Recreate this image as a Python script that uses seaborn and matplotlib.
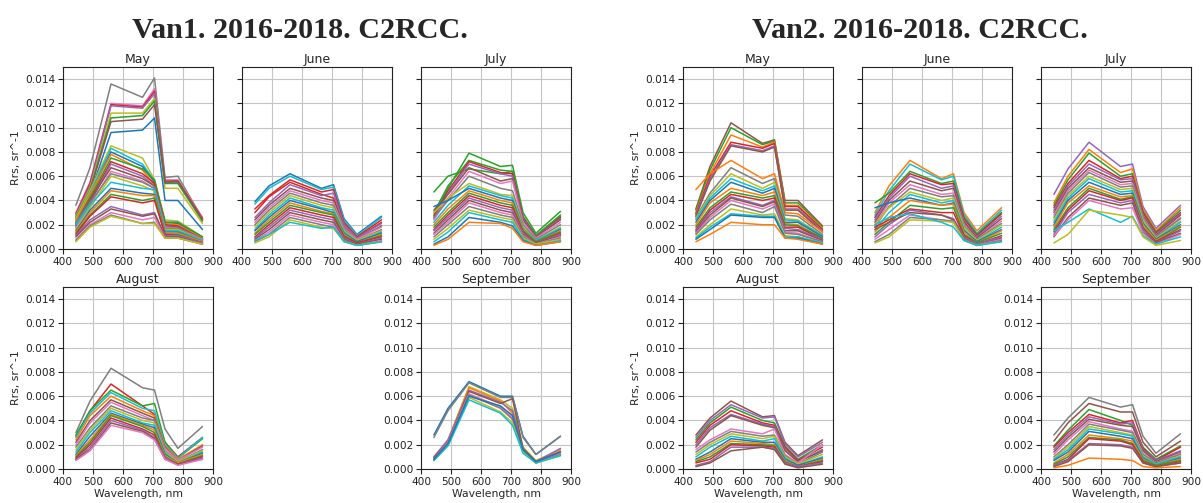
import pandas as pd
import seaborn as sns
import matplotlib
matplotlib.use("Agg")
import matplotlib.pyplot as plt

# Sentinel-2 MSI band centres used by C2RCC
wavelengths = [443, 490, 560, 665, 705, 740, 783, 865]
months_top = ["May", "June", "July"]
months_bottom = ["August", "September"]
sites = ["Van1", "Van2"]

# Rrs spectra, in units of 1e-4 sr^-1
van1_may = [
    [36, 67, 136, 125, 141, 59, 60, 25], [30, 55, 120, 118, 132, 57, 57, 26],
    [29, 54, 119, 117, 130, 56, 56, 25], [28, 52, 118, 116, 128, 55, 55, 24],
    [27, 50, 112, 112, 124, 50, 50, 21], [26, 49, 108, 110, 122, 54, 54, 23],
    [25, 48, 105, 107, 119, 55, 56, 24], [20, 45, 96, 98, 108, 40, 40, 16],
    [25, 48, 85, 75, 57, 24, 23, 10], [23, 46, 83, 70, 56, 22, 22, 9],
    [22, 44, 80, 68, 55, 22, 21, 9], [24, 45, 78, 65, 53, 21, 20, 9],
    [20, 42, 75, 66, 57, 22, 22, 10], [19, 40, 72, 62, 54, 20, 19, 8],
    [18, 38, 70, 60, 52, 19, 18, 8], [21, 40, 67, 58, 52, 19, 18, 8],
    [17, 36, 64, 56, 50, 18, 17, 8], [22, 38, 62, 55, 50, 17, 17, 7],
    [16, 34, 60, 52, 48, 16, 16, 7], [20, 36, 55, 50, 49, 15, 15, 7],
    [15, 32, 50, 46, 45, 14, 14, 6], [14, 30, 48, 44, 44, 13, 13, 6],
    [13, 28, 45, 40, 42, 12, 12, 5], [12, 27, 43, 38, 40, 12, 11, 5],
    [11, 24, 35, 28, 30, 11, 11, 5], [10, 22, 33, 27, 29, 10, 10, 4],
    [8, 20, 30, 24, 26, 9, 9, 4], [7, 19, 28, 21, 22, 9, 9, 4],
    [6, 18, 27, 21, 21, 9, 9, 4],
]
van1_june = [
    [39, 52, 62, 50, 53, 25, 12, 27], [37, 50, 60, 49, 51, 24, 11, 26],
    [33, 44, 57, 47, 49, 22, 10, 24], [30, 43, 55, 45, 42, 20, 9, 22],
    [26, 38, 53, 44, 46, 20, 9, 21], [24, 36, 50, 42, 40, 18, 8, 19],
    [22, 34, 48, 40, 38, 17, 8, 18], [20, 32, 46, 38, 36, 16, 7, 16],
    [18, 30, 44, 36, 34, 15, 7, 15], [16, 28, 42, 34, 32, 14, 6, 14],
    [15, 26, 40, 33, 30, 13, 6, 13], [13, 24, 38, 31, 29, 12, 5, 12],
    [12, 22, 36, 30, 28, 11, 5, 11], [10, 20, 34, 28, 26, 10, 5, 10],
    [9, 18, 32, 26, 24, 9, 4, 9], [8, 16, 30, 24, 22, 8, 4, 8],
    [7, 14, 28, 22, 20, 7, 3, 7], [6, 12, 26, 20, 18, 7, 3, 6],
    [5, 10, 24, 18, 17, 6, 3, 6], [7, 12, 22, 17, 18, 6, 3, 6],
]
van1_july = [
    [28, 50, 79, 68, 69, 30, 13, 31], [47, 60, 66, 62, 64, 26, 11, 28],
    [30, 52, 73, 65, 64, 27, 11, 27], [27, 48, 72, 63, 62, 26, 10, 26],
    [25, 46, 70, 62, 60, 25, 10, 25], [32, 45, 67, 56, 58, 24, 10, 24],
    [24, 42, 64, 54, 56, 22, 9, 22], [26, 40, 60, 50, 48, 20, 8, 20],
    [30, 42, 54, 45, 44, 18, 7, 18], [22, 36, 52, 44, 42, 17, 7, 17],
    [35, 40, 50, 42, 40, 16, 6, 16], [20, 33, 48, 40, 38, 16, 6, 15],
    [18, 30, 46, 38, 36, 15, 6, 14], [16, 28, 44, 36, 34, 14, 5, 13],
    [15, 26, 42, 34, 32, 13, 5, 12], [13, 24, 40, 32, 30, 12, 5, 11],
    [12, 22, 38, 30, 28, 11, 4, 10], [10, 20, 35, 28, 26, 10, 4, 9],
    [8, 17, 32, 26, 24, 9, 4, 8], [6, 14, 30, 24, 22, 8, 3, 7],
    [4, 10, 26, 22, 19, 7, 3, 6], [3, 8, 22, 21, 17, 6, 3, 6],
]
van1_august = [
    [30, 56, 83, 67, 65, 33, 17, 35], [27, 48, 70, 52, 45, 22, 10, 26],
    [28, 48, 65, 52, 54, 22, 9, 25], [26, 46, 63, 50, 48, 20, 9, 26],
    [24, 44, 60, 48, 44, 19, 8, 20], [22, 40, 57, 46, 42, 18, 7, 19],
    [20, 38, 55, 44, 40, 17, 7, 18], [18, 34, 52, 42, 40, 15, 6, 16],
    [16, 32, 50, 40, 38, 14, 6, 15], [14, 30, 48, 38, 36, 13, 5, 14],
    [12, 27, 46, 37, 34, 12, 5, 13], [11, 24, 45, 36, 32, 11, 5, 12],
    [10, 22, 44, 35, 30, 10, 4, 11], [9, 20, 42, 33, 28, 9, 4, 10],
    [8, 18, 40, 32, 26, 9, 4, 9], [8, 16, 38, 31, 25, 8, 4, 8],
    [7, 15, 36, 30, 24, 8, 3, 8],
]
van1_september = [
    [28, 50, 72, 60, 60, 27, 12, 27], [26, 48, 71, 59, 59, 26, 12, 27],
    [10, 24, 68, 57, 50, 18, 7, 16], [9, 23, 67, 56, 46, 17, 6, 15],
    [10, 24, 65, 55, 48, 17, 6, 17], [9, 22, 64, 54, 58, 17, 6, 14],
    [8, 22, 62, 51, 42, 16, 5, 13], [8, 21, 61, 50, 41, 15, 5, 12],
    [7, 20, 59, 47, 38, 14, 5, 11], [7, 19, 57, 46, 36, 13, 5, 11],
    [8, 21, 60, 52, 44, 16, 6, 14],
]
van2_may = [
    [33, 68, 104, 87, 90, 40, 40, 19], [32, 65, 100, 86, 89, 38, 38, 18],
    [30, 62, 94, 84, 88, 36, 36, 17], [29, 60, 88, 83, 87, 35, 35, 16],
    [28, 58, 86, 81, 85, 33, 33, 15], [27, 56, 85, 80, 84, 32, 32, 14],
    [49, 62, 73, 58, 62, 30, 29, 14], [26, 46, 67, 54, 58, 28, 27, 12],
    [25, 44, 62, 50, 55, 25, 24, 11], [24, 42, 58, 48, 52, 24, 23, 11],
    [22, 40, 55, 46, 50, 22, 22, 10], [20, 38, 50, 44, 47, 21, 20, 9],
    [18, 34, 47, 42, 44, 20, 19, 9], [16, 32, 45, 40, 42, 18, 18, 8],
    [15, 30, 43, 36, 40, 17, 16, 8], [14, 28, 42, 35, 39, 15, 15, 7],
    [13, 26, 40, 33, 37, 14, 13, 6], [12, 24, 37, 30, 35, 13, 12, 6],
    [10, 20, 33, 28, 29, 11, 10, 5], [9, 18, 29, 27, 27, 10, 10, 5],
    [8, 16, 28, 26, 26, 9, 9, 4], [6, 12, 22, 20, 20, 9, 8, 4],
]
van2_june = [
    [30, 52, 73, 58, 62, 30, 15, 34], [28, 48, 70, 57, 60, 28, 13, 32],
    [38, 46, 64, 54, 56, 26, 12, 30], [26, 44, 62, 53, 54, 25, 11, 29],
    [24, 42, 60, 50, 52, 23, 10, 27], [22, 40, 56, 48, 50, 22, 9, 25],
    [20, 38, 53, 45, 46, 20, 8, 23], [18, 35, 50, 43, 44, 19, 8, 21],
    [20, 34, 47, 40, 42, 18, 7, 20], [16, 30, 45, 38, 40, 16, 6, 18],
    [34, 38, 42, 36, 38, 15, 6, 16], [14, 26, 40, 36, 37, 14, 5, 15],
    [12, 22, 36, 33, 34, 12, 5, 13], [18, 24, 33, 30, 30, 11, 4, 11],
    [10, 20, 32, 28, 25, 10, 4, 10], [16, 22, 30, 28, 24, 9, 3, 9],
    [8, 16, 28, 24, 22, 8, 3, 8], [6, 12, 26, 24, 23, 8, 3, 7],
    [5, 10, 24, 23, 22, 7, 3, 6], [20, 26, 29, 22, 18, 7, 3, 6],
]
van2_july = [
    [45, 66, 88, 68, 70, 35, 17, 36], [38, 60, 82, 63, 66, 33, 15, 34],
    [36, 57, 79, 60, 62, 31, 14, 32], [34, 54, 73, 58, 60, 30, 13, 30],
    [32, 52, 70, 57, 58, 28, 12, 29], [30, 50, 67, 55, 56, 27, 11, 28],
    [28, 48, 65, 53, 54, 26, 10, 26], [26, 46, 63, 51, 52, 25, 10, 25],
    [24, 44, 60, 49, 50, 24, 9, 23], [22, 42, 58, 47, 48, 22, 8, 22],
    [20, 40, 55, 45, 46, 21, 8, 20], [18, 38, 52, 43, 44, 20, 7, 19],
    [16, 34, 50, 41, 43, 18, 6, 18], [14, 32, 48, 40, 42, 17, 6, 16],
    [12, 30, 45, 38, 40, 16, 5, 15], [10, 26, 42, 36, 38, 14, 5, 13],
    [11, 24, 40, 33, 34, 13, 4, 12], [15, 22, 33, 22, 27, 11, 4, 10],
    [5, 12, 32, 28, 26, 10, 3, 7],
]
van2_august = [
    [28, 42, 56, 43, 44, 22, 11, 24], [26, 40, 53, 42, 43, 21, 10, 22],
    [24, 38, 51, 40, 38, 19, 8, 20], [22, 36, 48, 38, 36, 18, 7, 18],
    [20, 34, 45, 37, 35, 16, 6, 16], [18, 32, 44, 36, 34, 15, 6, 15],
    [16, 24, 33, 29, 33, 12, 5, 20], [14, 22, 31, 27, 28, 11, 4, 14],
    [12, 20, 29, 25, 27, 10, 4, 12], [10, 18, 27, 23, 25, 9, 3, 10],
    [8, 14, 25, 22, 22, 8, 3, 9], [7, 12, 23, 21, 20, 7, 2, 8],
    [6, 10, 21, 20, 19, 6, 2, 7], [5, 8, 20, 19, 18, 5, 2, 6],
    [3, 6, 18, 18, 17, 5, 2, 5], [2, 5, 15, 18, 16, 4, 1, 4],
]
van2_september = [
    [28, 42, 59, 51, 53, 27, 13, 29], [23, 38, 54, 47, 47, 22, 10, 23],
    [19, 32, 49, 40, 36, 18, 8, 19], [18, 30, 45, 38, 40, 17, 7, 18],
    [16, 28, 43, 37, 38, 16, 7, 15], [14, 26, 41, 36, 35, 15, 6, 14],
    [12, 24, 39, 33, 31, 13, 5, 13], [10, 20, 37, 32, 30, 12, 5, 12],
    [9, 18, 35, 30, 28, 11, 4, 11], [8, 16, 33, 29, 27, 10, 4, 10],
    [7, 14, 31, 27, 25, 9, 3, 9], [5, 12, 28, 25, 23, 8, 3, 8],
    [4, 10, 26, 24, 21, 7, 3, 7], [3, 8, 25, 23, 20, 6, 2, 6],
    [3, 7, 21, 20, 18, 5, 2, 5], [2, 6, 20, 19, 17, 5, 2, 5],
    [1, 3, 9, 8, 7, 2, 1, 2],
]

spectra = {
    ("Van1", "May"): van1_may, ("Van1", "June"): van1_june,
    ("Van1", "July"): van1_july, ("Van1", "August"): van1_august,
    ("Van1", "September"): van1_september,
    ("Van2", "May"): van2_may, ("Van2", "June"): van2_june,
    ("Van2", "July"): van2_july, ("Van2", "August"): van2_august,
    ("Van2", "September"): van2_september,
}

# colours of the lines that stand out (tab10 index), the rest just cycle
highlight = {
    ("Van1", "May"): {0: 7, 1: 6, 2: 3, 3: 4, 4: 8, 5: 2, 6: 5, 7: 0},
    ("Van1", "June"): {0: 0, 1: 9, 2: 3},
    ("Van1", "July"): {0: 2, 1: 2},
    ("Van1", "August"): {0: 7, 1: 3, 2: 2, 3: 9, 4: 1},
    ("Van1", "September"): {0: 0, 1: 7, 2: 8, 3: 1},
    ("Van2", "May"): {0: 5, 1: 2, 2: 1, 6: 1},
    ("Van2", "June"): {0: 1, 1: 9},
    ("Van2", "July"): {0: 4, 1: 1, 17: 9, 18: 8},
    ("Van2", "August"): {0: 5, 1: 4},
    ("Van2", "September"): {0: 7, 1: 5, 16: 1},
}

sns.set_style("whitegrid", rc={
    "axes.edgecolor": "#222222",
    "axes.linewidth": 1.0,
    "grid.color": "#c4c4c4",
    "grid.linewidth": 1.0,
    "xtick.bottom": True,
    "ytick.left": True,
    "xtick.color": "#222222",
    "ytick.color": "#222222",
})
plt.rcParams["font.family"] = ["DejaVu Sans"]
tab10 = sns.color_palette("tab10", 10)

W, H = 1203, 503
fig = plt.figure(figsize=(W / 100, H / 100), dpi=100)


def add_ax(x0, ytop, w=150, h=182):
    return fig.add_axes([x0 / W, (H - ytop - h) / H, w / W, h / H])


for s, site in enumerate(sites):
    off = 620 * s
    fig.text((300 + off) / W, 1 - 30 / H, f"{site}. 2016-2018. C2RCC.",
             ha="center", va="center", fontsize=21.7, fontweight="bold",
             family="Liberation Serif")
    panels = [(m, 63 + 179 * i + off, 67) for i, m in enumerate(months_top)]
    panels += [("August", 63 + off, 287), ("September", 421 + off, 287)]
    for month, x0, ytop in panels:
        ax = add_ax(x0, ytop)
        lines = spectra[(site, month)]
        rows = []
        for k, vals in enumerate(lines):
            for wl, v in zip(wavelengths, vals):
                rows.append({"line": k, "wl": wl, "rrs": v * 1e-4})
        df = pd.DataFrame(rows)
        cols = [tab10[k % 10] for k in range(len(lines))]
        for k, c in highlight.get((site, month), {}).items():
            cols[k] = tab10[c]
        sns.lineplot(data=df, x="wl", y="rrs", hue="line", palette=cols,
                     legend=False, estimator=None, sort=False,
                     linewidth=1.1, ax=ax)
        ax.set_xlim(400, 900)
        ax.set_ylim(0, 0.015)
        ax.set_xticks([400, 500, 600, 700, 800, 900])
        ax.set_yticks([0, 0.002, 0.004, 0.006, 0.008, 0.010, 0.012, 0.014])
        ax.yaxis.set_major_formatter(matplotlib.ticker.FormatStrFormatter("%.3f"))
        ax.tick_params(labelsize=7.6, length=3.5, width=0.8, pad=2)
        ax.set_title(month, fontsize=9, pad=3)
        ax.set_xlabel("Wavelength, nm" if ytop > 200 else "", fontsize=7.8, labelpad=2)
        if month in ("May", "August"):
            ax.set_ylabel("Rrs, sr^-1", fontsize=7.8, labelpad=3)
        else:
            ax.set_ylabel("")
        if month in ("June", "July"):
            ax.tick_params(labelleft=False)
        for sp in ax.spines.values():
            sp.set_visible(True)

fig.savefig("out.png", dpi=100)
